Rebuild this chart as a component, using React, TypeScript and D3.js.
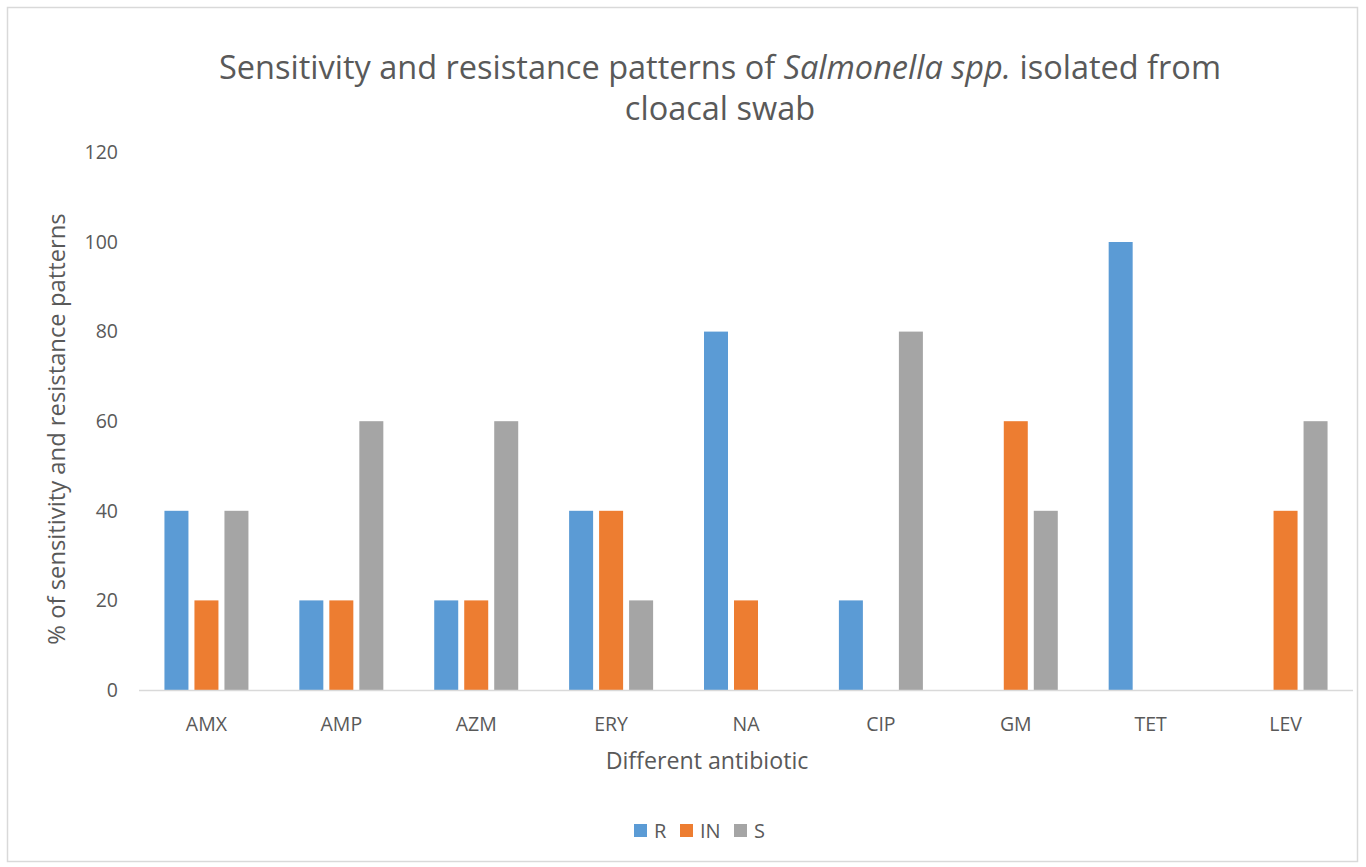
import React from "react";
import * as d3 from "d3";

const categories = ["AMX", "AMP", "AZM", "ERY", "NA", "CIP", "GM", "TET", "LEV"];
const seriesNames = ["R", "IN", "S"];
const rValues = [40, 20, 20, 40, 80, 20, 0, 100, 0];
const inValues = [20, 20, 20, 40, 20, 0, 60, 0, 40];
const sValues = [40, 60, 60, 20, 0, 80, 40, 0, 60];
const yTicks = [0, 20, 40, 60, 80, 100, 120];
const colors = ["#5B9BD5", "#ED7D31", "#A5A5A5"];

const W = 1366;
const H = 867;
const FONT = "'Open Sans', Lato, sans-serif";

export default function App() {
  const series = [rValues, inValues, sValues];
  const x0 = d3.scaleBand<string>().domain(categories).range([139, 1353]).paddingInner(0).paddingOuter(0);
  const groupW = 84;
  const x1 = d3.scaleBand<string>().domain(seriesNames).range([0, groupW]).paddingInner(0.2).paddingOuter(0);
  const y = d3.scaleLinear().domain([0, 120]).range([690, 152.4]);

  return (
    <svg width={W} height={H} style={{ position: "absolute", left: 0, top: 0, background: "#fff" }}>
      <rect x={7.5} y={7.5} width={1350} height={854} fill="#fff" stroke="#D9D9D9" strokeWidth={1.5} />
      <text x={720} y={79} textAnchor="middle" fontFamily={FONT} fontSize={32.5} fill="#595959">
        <tspan>Sensitivity and resistance patterns of </tspan>
        <tspan fontStyle="italic">Salmonella spp.</tspan>
        <tspan> isolated from</tspan>
      </text>
      <text x={720} y={120} textAnchor="middle" fontFamily={FONT} fontSize={32.5} fill="#595959">
        cloacal swab
      </text>
      {yTicks.map((t) => (
        <text key={t} x={118} y={y(t)} dy="0.35em" textAnchor="end" fontFamily={FONT} fontSize={19.5} fill="#595959">
          {t}
        </text>
      ))}
      <text
        transform={`translate(57,${429}) rotate(-90)`}
        textAnchor="middle"
        dy="0.35em"
        fontFamily={FONT}
        fontSize={23.8}
        fill="#595959"
      >
        % of sensitivity and resistance patterns
      </text>
      {categories.map((c, i) => {
        const gx = (x0(c) as number) + (x0.bandwidth() - groupW) / 2;
        return (
          <g key={c}>
            {series.map((vals, si) =>
              vals[i] > 0 ? (
                <rect
                  key={si}
                  x={gx + (x1(seriesNames[si]) as number)}
                  y={y(vals[i])}
                  width={x1.bandwidth()}
                  height={y(0) - y(vals[i])}
                  fill={colors[si]}
                />
              ) : null
            )}
            <text
              x={(x0(c) as number) + x0.bandwidth() / 2}
              y={724}
              dy="0.35em"
              textAnchor="middle"
              fontFamily={FONT}
              fontSize={19.5}
              fill="#595959"
            >
              {c}
            </text>
          </g>
        );
      })}
      <line x1={139} x2={1353} y1={y(0) + 0.5} y2={y(0) + 0.5} stroke="#D9D9D9" strokeWidth={1.5} />
      <text x={707} y={761} dy="0.35em" textAnchor="middle" fontFamily={FONT} fontSize={23.2} fill="#595959">
        Different antibiotic
      </text>
      {seriesNames.map((s, i) => {
        const lx = [634, 680, 734][i];
        return (
          <g key={s}>
            <rect x={lx} y={824} width={13} height={13} fill={colors[i]} />
            <text x={lx + 20} y={831} dy="0.35em" fontFamily={FONT} fontSize={20} fill="#595959">
              {s}
            </text>
          </g>
        );
      })}
    </svg>
  );
}
